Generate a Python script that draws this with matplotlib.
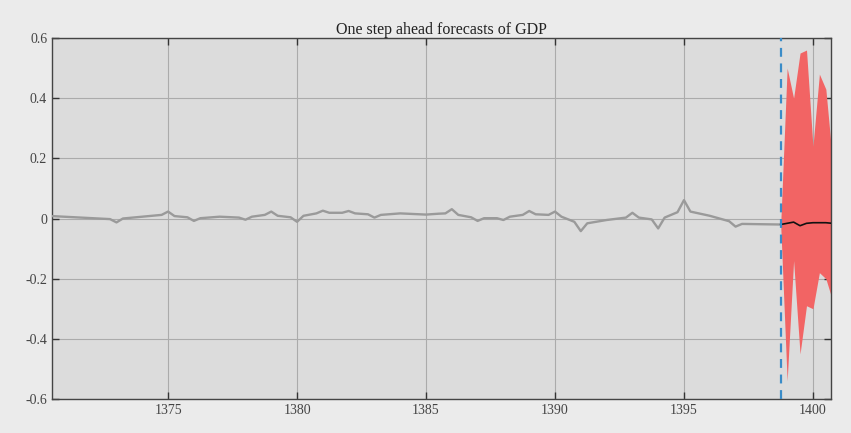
import matplotlib
matplotlib.use("Agg")
import matplotlib.pyplot as plt
from matplotlib.ticker import FuncFormatter

# ---- data ----
hist_x = [1370.5, 1372.75, 1373.0, 1373.25, 1374.0, 1374.75, 1375.0, 1375.25, 1375.75,
          1376.0, 1376.25, 1377.0, 1377.75, 1378.0, 1378.25, 1378.75, 1379.0, 1379.25,
          1379.75, 1380.0, 1380.25, 1380.75, 1381.0, 1381.25, 1381.75, 1382.0, 1382.25,
          1382.75, 1383.0, 1383.25, 1384.0, 1385.0, 1385.5, 1385.75, 1386.0, 1386.25,
          1386.75, 1387.0, 1387.25, 1387.75, 1388.0, 1388.25, 1388.75, 1389.0, 1389.25,
          1389.75, 1390.0, 1390.25, 1390.75, 1391.0, 1391.25, 1392.0, 1392.75, 1393.0,
          1393.25, 1393.75, 1394.0, 1394.25, 1394.75, 1395.0, 1395.25, 1396.0, 1396.75,
          1397.0, 1397.25, 1398.75]
hist_y = [0.008, -0.002, -0.013, 0.0, 0.006, 0.012, 0.023, 0.008, 0.004,
          -0.008, 0.001, 0.006, 0.003, -0.004, 0.006, 0.012, 0.023, 0.009,
          0.004, -0.011, 0.009, 0.017, 0.026, 0.019, 0.019, 0.025, 0.017,
          0.014, 0.003, 0.012, 0.017, 0.013, 0.016, 0.017, 0.031, 0.012,
          0.004, -0.008, 0.001, 0.001, -0.005, 0.006, 0.012, 0.025, 0.014,
          0.012, 0.023, 0.006, -0.011, -0.042, -0.016, -0.005, 0.003, 0.019,
          0.003, -0.003, -0.033, 0.003, 0.021, 0.061, 0.023, 0.009, -0.009,
          -0.027, -0.018, -0.020]

fc_x = [1398.75, 1399.0, 1399.25, 1399.5, 1399.75, 1400.0, 1400.25, 1400.5, 1400.75]
fc_mean = [-0.020, -0.016, -0.012, -0.024, -0.016, -0.014, -0.014, -0.014, -0.016]
fc_upper = [-0.020, 0.50, 0.40, 0.55, 0.56, 0.24, 0.48, 0.43, 0.20]
fc_lower = [-0.020, -0.54, -0.14, -0.45, -0.29, -0.30, -0.18, -0.20, -0.27]

forecast_start = 1398.75
x_ticks = [1375, 1380, 1385, 1390, 1395, 1400]
y_ticks = [-0.6, -0.4, -0.2, 0, 0.2, 0.4, 0.6]
title = "One step ahead forecasts of GDP"

# ---- plot ----
plt.rcParams['font.family'] = ['Liberation Serif', 'DejaVu Serif']
fig = plt.figure(figsize=(8.51, 4.33), dpi=100, facecolor='#ebebeb')
ax = fig.add_axes([52/851, 1-399/433, (831-52)/851, (399-38)/433])
ax.set_facecolor('#dcdcdc')

ax.fill_between(fc_x, fc_lower, fc_upper, color='#f26464', linewidth=0, zorder=2)
ax.plot(hist_x, hist_y, color='#9a9a9a', linewidth=1.7, zorder=3)
ax.plot(fc_x, fc_mean, color='#111111', linewidth=1.2, zorder=4)
ax.axvline(forecast_start, color='#3a8cc8', linestyle=(0, (4, 3)), linewidth=1.6, zorder=5)

ax.set_xlim(1370.5, 1400.7)
ax.set_ylim(-0.6, 0.6)
ax.set_xticks(x_ticks)
ax.set_yticks(y_ticks)
ax.yaxis.set_major_formatter(FuncFormatter(lambda v, p: '%g' % round(v, 2)))
ax.grid(True, color='#ababab', linewidth=0.8)
ax.set_axisbelow(True)
ax.tick_params(direction='in', length=5, width=1, color='#333333',
               top=True, right=True, labelsize=10, labelcolor='#444444')
for s in ax.spines.values():
    s.set_color('#444444')
    s.set_linewidth(1.0)
ax.set_title(title, fontsize=11.5, color='#222222', pad=3)

fig.savefig('out.png', dpi=100, facecolor=fig.get_facecolor())
